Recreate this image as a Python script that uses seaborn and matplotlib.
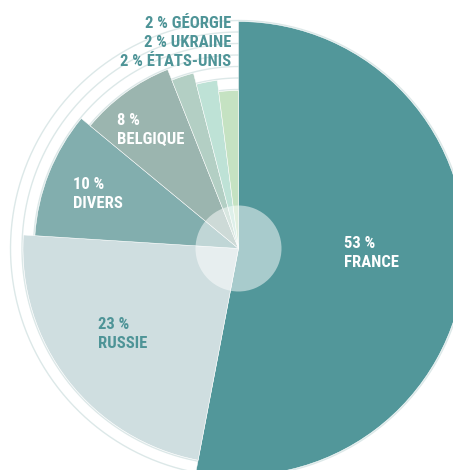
import numpy as np
import matplotlib
matplotlib.use("Agg")
import matplotlib.pyplot as plt
import seaborn as sns
from matplotlib import font_manager as fm

# Shares by country, in drawing order (clockwise from 12 o'clock)
countries = ["FRANCE", "RUSSIE", "DIVERS", "BELGIQUE", "GÉORGIE", "UKRAINE", "ÉTATS-UNIS"]
shares = [53, 23, 10, 8, 2, 2, 2]

# Wedge fills, same order
wedge_colors = ["#52979A", "#CFDEE0", "#82AEAE", "#9BB5AF", "#B3CFC4", "#BEE2D6", "#C5E2C2"]

sns.set_theme(style="white")

installed = {f.name for f in fm.fontManager.ttflist}
font_kw = dict(fontweight="bold")
for fam in ["Roboto Condensed", "Liberation Sans Narrow", "Open Sans Condensed"]:
    if fam in installed:
        font_kw["family"] = fam
        break
else:
    font_kw["family"] = "DejaVu Sans"
    font_kw["fontstretch"] = "condensed"

W, H = 453, 470
fig = plt.figure(figsize=(W / 100, H / 100), dpi=100)
fig.patch.set_facecolor("white")

# Polar axes laid out in pixel units: centre of the rose and its radial scale
cx, cy = 238.5, 248.5
rmax = 235
ax = fig.add_axes([(cx - rmax) / W, 1 - (cy + rmax) / H, 2 * rmax / W, 2 * rmax / H],
                  projection="polar")
ax.set_theta_zero_location("N")
ax.set_theta_direction(-1)
ax.set_ylim(0, rmax)
ax.set_axis_off()

# Stepped wedge radii (decorative, decreasing clockwise)
r_outer, r_step = 227, 11.5
radii = r_outer - r_step * np.arange(len(shares))

frac = np.asarray(shares, dtype=float) / np.sum(shares)
widths = frac * 2 * np.pi
starts = np.concatenate([[0], np.cumsum(widths)[:-1]])

# faint guide rings at each wedge radius
t = np.linspace(0, 2 * np.pi, 720)
for r in radii:
    ax.plot(t, np.full_like(t, r + 1.0), color="#DCE8E8", lw=1.0, zorder=1)

ax.bar(starts, radii, width=widths, bottom=0, align="edge",
       color=sns.color_palette(wedge_colors), edgecolor="white", linewidth=0.35, zorder=2)

# translucent hub
ax.bar(0, 43, width=2 * np.pi, bottom=0, color="white", alpha=0.5, linewidth=0, zorder=3)

teal = "#4E9497"
fs = 12


def px_text(x, y, s, color, ha="left"):
    fig.text(x / W, 1 - y / H, s, color=color, fontsize=fs, ha=ha, va="baseline", **font_kw)


def pct(v):
    return f"{v} %"


# labels inside the large wedges: (x, first baseline, colour)
inside = {
    "FRANCE": (344, 248, "white"),
    "RUSSIE": (98, 329, teal),
    "DIVERS": (73, 189, "white"),
    "BELGIQUE": (117, 125, "white"),
}
for name, (x, y, col) in inside.items():
    v = shares[countries.index(name)]
    px_text(x, y, pct(v), col)
    px_text(x, y + 19, name, col)

# small shares listed above the rose
top_y = {"GÉORGIE": 28, "UKRAINE": 47, "ÉTATS-UNIS": 66.5}
for name, y in top_y.items():
    v = shares[countries.index(name)]
    px_text(231, y, f"{pct(v)} {name}", teal, ha="right")

fig.savefig("out.png", dpi=100, facecolor="white")
